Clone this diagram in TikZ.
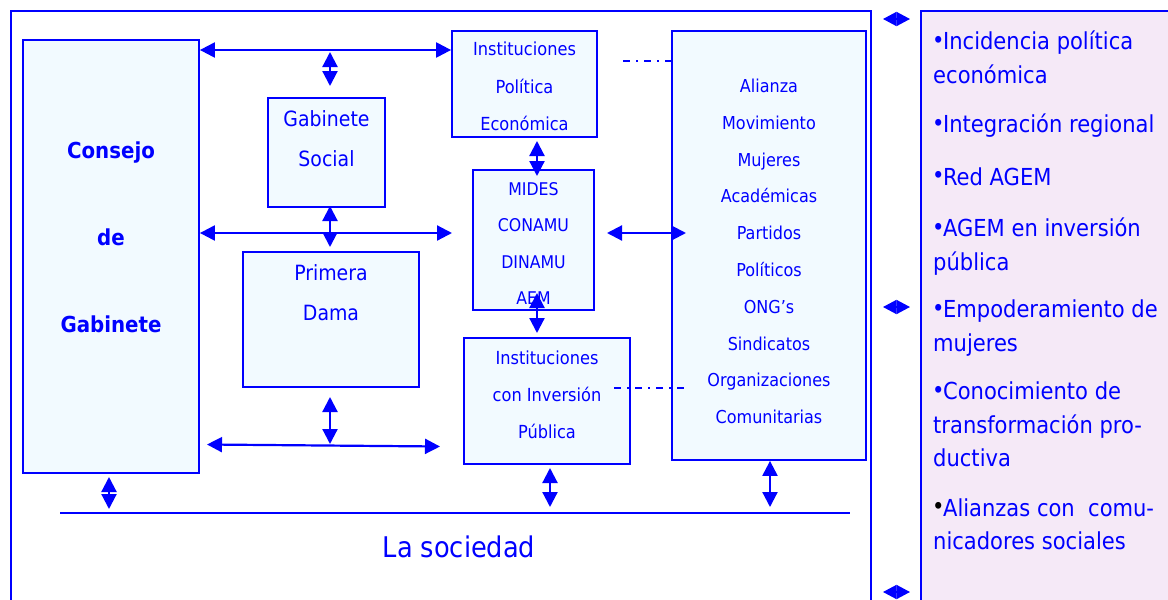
\documentclass[tikz,border=0pt]{standalone}
\usepackage{fontspec}
\setmainfont{DejaVu Sans Condensed}
\usetikzlibrary{arrows.meta}
\definecolor{bl}{RGB}{0,0,255}
\definecolor{boxfill}{RGB}{242,250,255}
\definecolor{panelfill}{RGB}{245,233,247}
\newcommand\bulmark{\kern-1pt\raisebox{1.5pt}{•}\kern-1.5pt}
\begin{document}
\begin{tikzpicture}[x=1pt,y=-1pt,
  box/.style={draw=bl,line width=1.8pt,fill=boxfill,inner sep=0pt},
  txt/.style={text=bl,align=center,inner sep=0pt},
  bi/.style={draw=bl,line width=2.2pt,{Triangle[length=15pt,width=15pt]}-{Triangle[length=15pt,width=15pt]}},
  sbi/.style={draw=bl,line width=1.5pt,{Triangle[length=13.5pt,width=14pt]}-{Triangle[length=13.5pt,width=14pt]}},
  dd/.style={draw=bl,line width=2pt,dash pattern=on 7pt off 6pt on 2pt off 6pt}]
\useasboundingbox (0,0) rectangle (1168,600);
\fill[white] (0,0) rectangle (1168,600);
% outer frame
\draw[bl,line width=2.2pt] (11,606) -- (11,11) -- (871,11) -- (871,606);
% right panel
\node[draw=bl,line width=1.8pt,fill=panelfill,inner sep=0pt,anchor=north west,minimum width=280,minimum height=610] (panel) at (920,10) {};
% boxes
\node[box,minimum width=176,minimum height=433] (cons) at (111,256.5) {};
\node[box,minimum width=117,minimum height=109] (gab) at (326.5,152.5) {};
\node[box,minimum width=145,minimum height=106] (inst) at (524.5,84) {};
\node[box,minimum width=121,minimum height=140] (mides) at (533.5,240) {};
\node[box,minimum width=176,minimum height=135] (prim) at (331,319.5) {};
\node[box,minimum width=166,minimum height=126] (inv) at (547,401) {};
\node[box,minimum width=194,minimum height=429] (ali) at (769,245.5) {};
% texts
\node[txt,font=\fontsize{22}{87}\selectfont\bfseries] (consT) at (111,237) {Consejo\\de\\Gabinete};
\node[txt,font=\fontsize{21}{40}\selectfont] (gabT) at (326.5,139) {Gabinete\\Social};
\node[txt,font=\fontsize{18}{37.5}\selectfont] (instT) at (524.5,86.5) {Instituciones\\Política\\Económica};
\node[txt,font=\fontsize{17.5}{36.5}\selectfont] (midesT) at (533.5,243.5) {MIDES\\CONAMU\\DINAMU\\AEM};
\node[txt,font=\fontsize{21}{40}\selectfont] (primT) at (331,293) {Primera\\Dama};
\node[txt,font=\fontsize{18}{37}\selectfont] (invT) at (547,395) {Instituciones\\con Inversión\\Pública};
\node[txt,font=\fontsize{17.8}{36.8}\selectfont] (aliT) at (769,251.5) {Alianza\\Movimiento\\Mujeres\\Académicas\\Partidos\\Políticos\\ONG’s\\Sindicatos\\Organizaciones\\Comunitarias};
\node[txt,font=\fontsize{28.5}{30}\selectfont] (soc) at (459,547) {La sociedad};
\node[txt,align=left,anchor=west,font=\fontsize{23.4}{33.5}\selectfont] (panelT) at (933,290.5) {\bulmark Incidencia política\\económica\\[16pt]\bulmark Integración regional\\[19pt]\bulmark Red AGEM\\[18pt]\bulmark AGEM en inversión\\pública\\[14pt]\bulmark Empoderamiento de\\mujeres\\[15pt]\bulmark Conocimiento de\\transformación pro-\\ductiva\\[16pt]{\color{black}\bulmark}Alianzas con\ \ comu-\\nicadores sociales};
% coordinates for free ends
\coordinate (yA) at (0,50);
\coordinate (yB) at (0,233);
\coordinate (g1) at (330,52);
\coordinate (g2) at (330,86);
\coordinate (g3) at (330,206);
\coordinate (g4) at (330,247);
\coordinate (hB) at (452,233);
\coordinate (m1) at (537,141);
\coordinate (m2) at (537,176);
\coordinate (m3) at (607,233);
\coordinate (m4) at (686,233);
\coordinate (m5) at (537,293);
\coordinate (m6) at (537,333);
\coordinate (p1) at (330,397);
\coordinate (p2) at (330,444);
\coordinate (h1) at (207,444.5);
\coordinate (h2) at (440,446.5);
\coordinate (c1) at (109,477);
\coordinate (c2) at (109,509);
\coordinate (s1) at (60,513);
\coordinate (s2) at (850,513);
\coordinate (v1) at (550,468);
\coordinate (v2) at (550,507);
\coordinate (a2) at (770,507);
\coordinate (d1) at (623,61);
\coordinate (d3) at (614,388);
\coordinate (d4) at (688,388);
\coordinate (r1) at (883,19);
\coordinate (r2) at (910,19);
\coordinate (r3) at (883,307);
\coordinate (r4) at (910,307);
\coordinate (r5) at (883,592);
\coordinate (r6) at (910,592);
% connectors
\draw[bi] (cons.east |- yA) -- (inst.west |- yA);
\draw[bi] (g1) -- (g2);
\draw[bi] (g3) -- (g4);
\draw[bi] (cons.east |- yB) -- (hB);
\draw[bi] (m1) -- (m2);
\draw[bi] (m3) -- (m4);
\draw[bi] (m5) -- (m6);
\draw[bi] (p1) -- (p2);
\draw[bi] (h1) -- (h2);
\draw[bi] (c1) -- (c2);
\draw[bl,line width=2.2pt] (s1) -- (s2);
\draw[bi] (v1) -- (v2);
\draw[bi] (ali.south -| a2) -- (a2);
\draw[dd] (d1) -- (ali.west |- d1);
\draw[dd] (d3) -- (d4);
\draw[sbi] (r1) -- (r2);
\draw[sbi] (r3) -- (r4);
\draw[sbi] (r5) -- (r6);
\end{tikzpicture}
\end{document}
